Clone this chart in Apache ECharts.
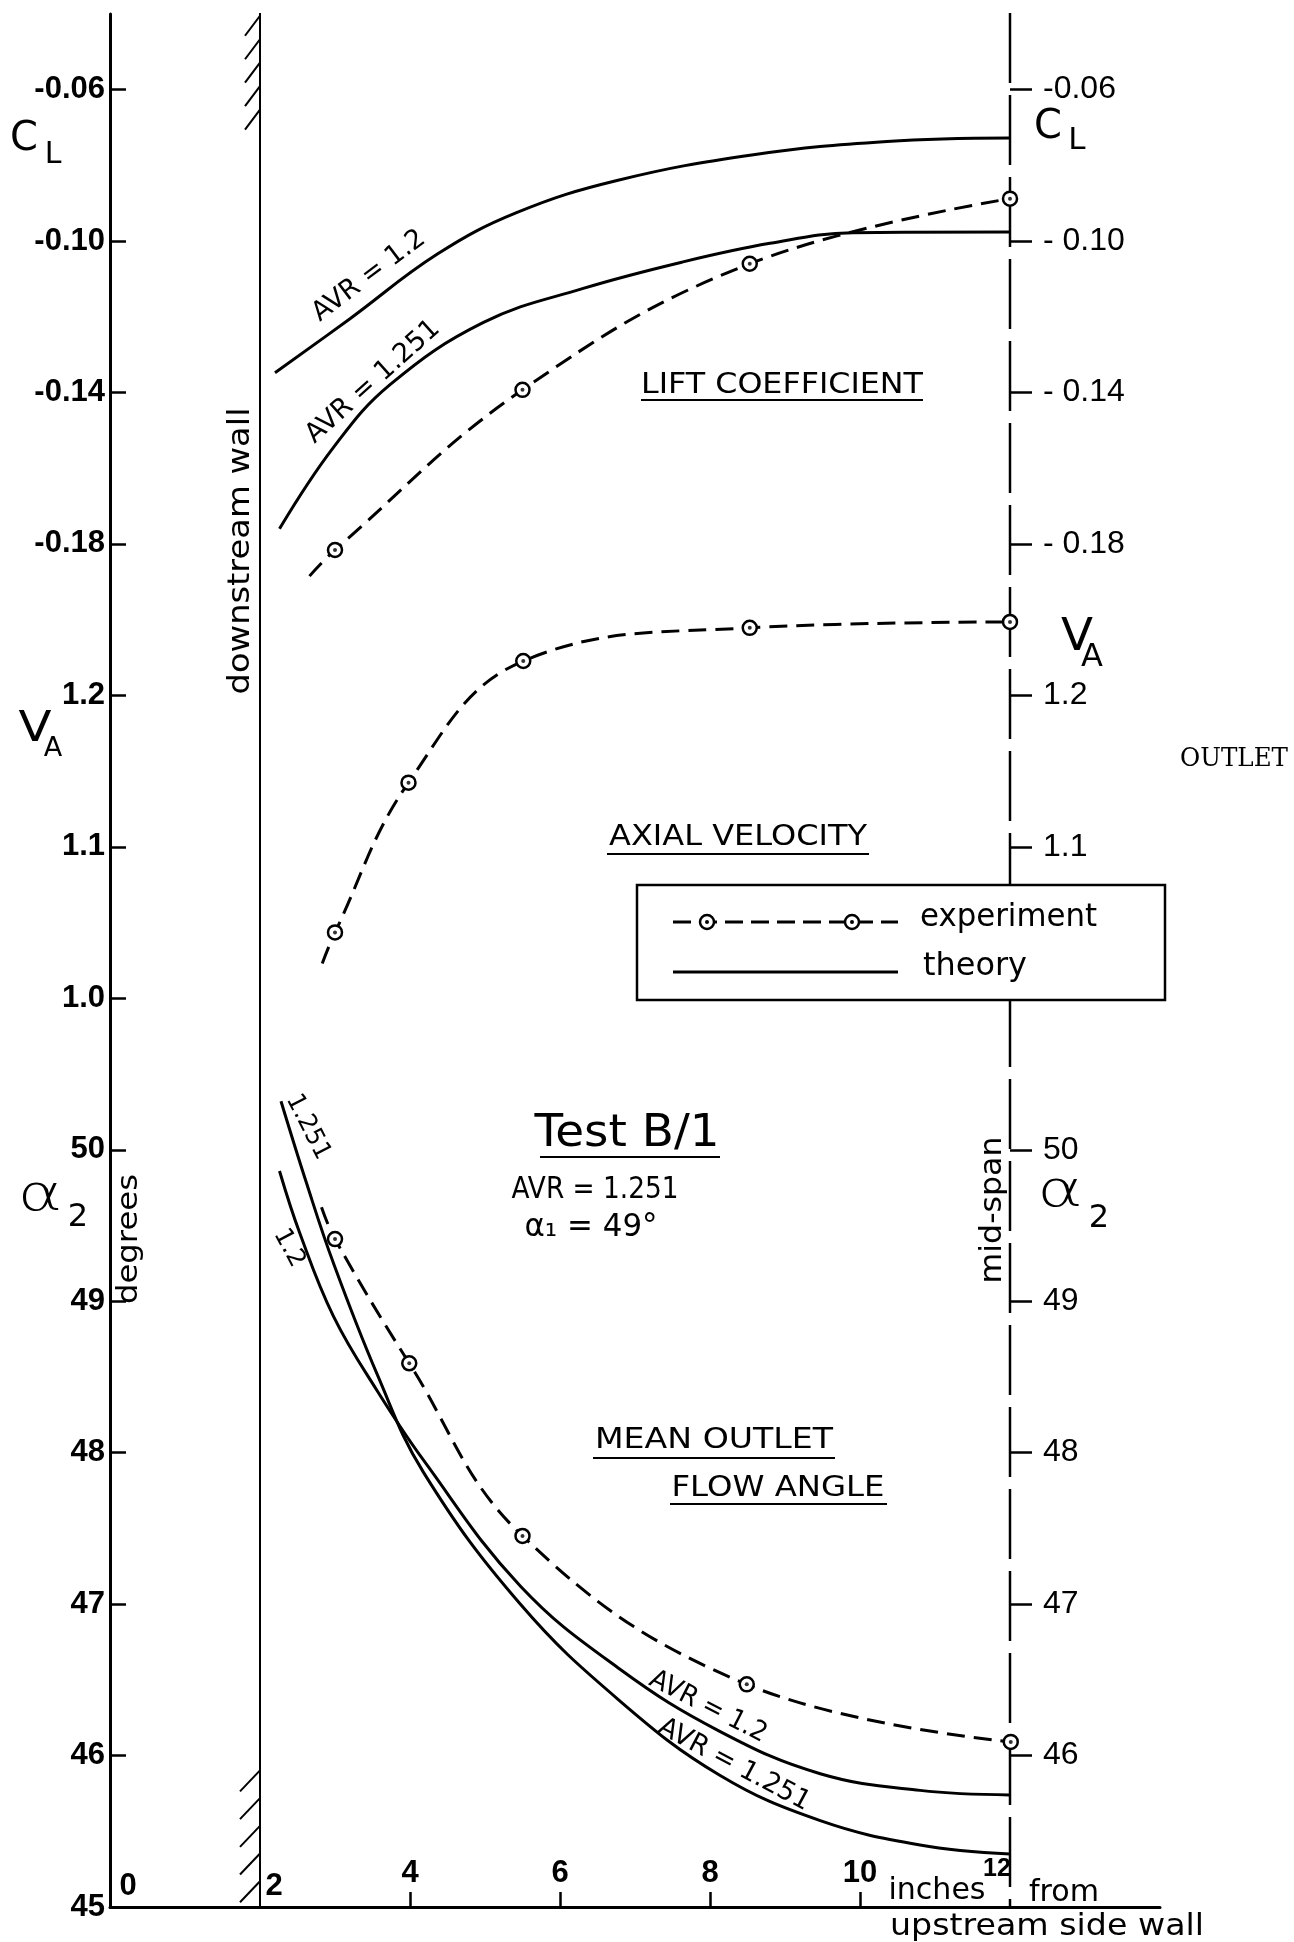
<!DOCTYPE html>
<html>
<head>
<meta charset="utf-8">
<script src="https://cdn.jsdelivr.net/npm/echarts@6/dist/echarts.min.js"></script>
<style>
  html, body { margin: 0; padding: 0; background: #fff; }
  #chart { width: 1294px; height: 1942px; }
</style>
</head>
<body>
<div id="chart"></div>
<script>
// ---- data: spanwise distance from the upstream side wall (inches) ----
const xTickValues = [0, 2, 4, 6, 8, 10, 12];
const xMinorTicks = [4, 6, 8, 10];
const wallX = 2;      // downstream wall
const midSpanX = 12;  // mid-span

// Lift coefficient C_L
const clTheory12X   = [2.2, 3.2, 4.36, 5.42, 6.76, 8.58, 10.36, 12.0];
const clTheory12    = [-0.1348, -0.1205, -0.1035, -0.0925, -0.0840, -0.0772, -0.0737, -0.0728];
const clTheory1251X = [2.26, 2.98, 3.73, 4.98, 6.31, 7.64, 8.8, 9.9, 12.0];
const clTheory1251  = [-0.176, -0.1545, -0.138, -0.1215, -0.1125, -0.1055, -0.1006, -0.0978, -0.0976];
const clExpX        = [2.66, 3.0, 5.5, 8.53, 12.0];
const clExp         = [-0.1885, -0.1816, -0.1393, -0.1060, -0.0888];
const clExpMeasured = [false, true, true, true, true];

// Axial velocity ratio V_A
const vaExpX        = [2.83, 3.0, 3.98, 5.51, 8.53, 12.0];
const vaExp         = [1.023, 1.0435, 1.1424, 1.2227, 1.2446, 1.2485];
const vaExpMeasured = [false, true, true, true, true, true];

// Mean outlet flow angle alpha_2 (degrees)
const a2Theory12X   = [2.26, 2.53, 2.98, 3.56, 4.18, 5.47, 6.8, 8.13, 9.47, 10.8, 12.0];
const a2Theory12    = [49.86, 49.45, 48.90, 48.41, 47.95, 47.12, 46.57, 46.16, 45.88, 45.77, 45.74];
const a2Theory1251X = [2.28, 2.62, 2.98, 3.56, 4.18, 5.47, 6.8, 8.13, 9.47, 10.8, 12.0];
const a2Theory1251  = [50.32, 49.78, 49.25, 48.52, 47.87, 47.00, 46.36, 45.87, 45.57, 45.41, 45.35];
const a2ExpX        = [2.82, 3.0, 3.99, 5.5, 8.49, 12.01];
const a2Exp         = [49.62, 49.41, 48.59, 47.45, 46.47, 46.09];
const a2ExpMeasured = [false, true, true, true, true, true];

// axis tick values
const clTicksLeft  = [-0.18, -0.14, -0.10, -0.06];
const clTicksRight = [-0.18, -0.14, -0.10, -0.06];
const vaTicksLeft  = [1.0, 1.1, 1.2];
const vaTicksRight = [1.1, 1.2];
const a2TicksLeft  = [45, 46, 47, 48, 49, 50];
const a2TicksRight = [46, 47, 48, 49, 50];

// ---- layout ----
const INK = '#000';
const PLOT_LEFT = 110;         // left axis
const MID_PX = 1010;           // x = 12 in
const AXIS_END_PX = 1160;      // x = 14 in
const BASE_Y = 1907;           // bottom axis
const DIV = 151.45;            // pixels per major division, shared by the three stacked scales
const rowY = d => BASE_Y - d * DIV;
const W = 1294, H = 1942;
const SMOOTH = 0.4;

function grid(dLo, dHi, rightPx) {
  return { left: PLOT_LEFT, right: W - rightPx, top: rowY(dHi), height: rowY(dLo) - rowY(dHi),
           containLabel: false, outerBoundsMode: 'none', show: false };
}

const tickLine = { color: INK, width: 2.5 };
function leftAxis(g, min, max, ticks, fmt) {
  return {
    type: 'value', gridIndex: g, position: 'left', min, max,
    axisLine: { show: true, onZero: false, lineStyle: { color: INK, width: 3 } },
    axisTick: { show: true, inside: true, length: 16, customValues: ticks, lineStyle: tickLine },
    axisLabel: { show: true, customValues: ticks, formatter: fmt, margin: 5, color: INK,
                 fontFamily: 'Liberation Sans', fontWeight: 'bold', fontSize: 31 },
    splitLine: { show: false }
  };
}
function rightAxis(g, min, max, ticks, fmt) {
  return {
    type: 'value', gridIndex: g, position: 'right', min, max,
    // the mid-span dashed line is drawn once by its own series; this axis line stays invisible
    axisLine: { show: true, onZero: false, lineStyle: { color: 'rgba(0,0,0,0)', width: 1 } },
    axisTick: { show: true, inside: false, length: 22, customValues: ticks, lineStyle: tickLine },
    axisLabel: { show: true, customValues: ticks, formatter: fmt, margin: 33, color: INK,
                 fontFamily: 'Liberation Sans', fontSize: 32 },
    splitLine: { show: false }
  };
}
const hiddenX = g => ({ type: 'value', gridIndex: g, min: 0, max: 12, show: false, splitLine: { show: false } });

const fmtClLeft = v => '-' + Math.abs(v).toFixed(2);
const fmtClRight = v => (Math.abs(v + 0.06) < 1e-9 ? '-0.06' : '- ' + Math.abs(v).toFixed(2));
const fmtOne = v => v.toFixed(1);
const fmtInt = v => String(Math.round(v));

function xLabel(v) {
  if (v === 0) return '{a|0}';
  if (v === 2) return '{b|2}';
  if (v === 12) return '{d|12}';
  return '{c|' + v + '}';
}

const pairs = (xs, ys) => xs.map((x, i) => [x, ys[i]]);
function theory(name, gi, yi, xs, ys) {
  return { type: 'line', name, xAxisIndex: gi, yAxisIndex: yi, data: pairs(xs, ys),
           smooth: SMOOTH, symbol: 'none', clip: false, silent: true,
           lineStyle: { color: INK, width: 3 }, z: 3 };
}
function experiment(name, gi, yi, xs, ys, measured) {
  return { type: 'line', name, xAxisIndex: gi, yAxisIndex: yi,
           data: xs.map((x, i) => measured[i] ? [x, ys[i]] : { value: [x, ys[i]], symbol: 'none' }),
           smooth: SMOOTH, showAllSymbol: true, symbol: 'circle', symbolSize: 14,
           clip: false, silent: true,
           itemStyle: { color: '#fff', borderColor: INK, borderWidth: 2.5 },
           lineStyle: { color: INK, width: 3, type: [18, 9] }, z: 4 };
}
function centreDots(name, gi, yi, xs, ys, measured) {
  return { type: 'scatter', name, xAxisIndex: gi, yAxisIndex: yi,
           data: pairs(xs, ys).filter((_, i) => measured[i]),
           symbol: 'circle', symbolSize: 4, itemStyle: { color: INK }, z: 5, silent: true, clip: false };
}
// short hatch strokes along the wall
function hatches(gi, yi, ys, dx, dy) {
  return { type: 'custom', xAxisIndex: gi, yAxisIndex: yi, silent: true, clip: false, z: 3,
           data: ys.map(y => [wallX, y]),
           renderItem: (params, api) => {
             const p = api.coord([api.value(0), api.value(1)]);
             return { type: 'line', shape: { x1: p[0], y1: p[1], x2: p[0] - dx, y2: p[1] + dy },
                      style: { stroke: INK, lineWidth: 2 } };
           } };
}
const topHatchY = [0, 1, 2, 3, 4].map(k => -0.0405 - 0.0062 * k);
const bottomHatchY = [0, 1, 2, 3, 4].map(k => 45.17 + 0.183 * k);

// ---- annotation text ----
const mctx = document.createElement('canvas').getContext('2d');
function txt(text, cx, cy, size, o = {}) {
  const family = o.family || 'DejaVu Sans';
  const weight = o.weight || 'normal';
  let sx = 1;
  if (o.width) {
    mctx.font = weight + ' ' + size + 'px "' + family + '"';
    sx = o.width / mctx.measureText(text).width;
  }
  return { type: 'text', x: cx, y: cy, rotation: (o.rot || 0) * Math.PI / 180, scaleX: sx, z: 100, silent: true,
           style: { text, fontSize: size, fontFamily: family, fontWeight: weight, fill: INK,
                    align: o.align || 'center', verticalAlign: 'middle' } };
}
const line = (x1, y1, x2, y2, w, dash) => ({ type: 'line', z: 100, silent: true,
  shape: { x1, y1, x2, y2 }, style: { stroke: INK, lineWidth: w || 2, lineDash: dash || null } });
const ring = (cx, cy) => ({ type: 'circle', z: 101, silent: true, shape: { cx, cy, r: 7 },
  style: { fill: '#fff', stroke: INK, lineWidth: 2.5 } });
const dot = (cx, cy) => ({ type: 'circle', z: 102, silent: true, shape: { cx, cy, r: 2 }, style: { fill: INK } });

const notes = [
  // axis symbols
  txt('C', 24, 140, 40), txt('L', 53, 155, 30),
  txt('C', 1048, 128, 40), txt('L', 1077, 141, 31),
  txt('V', 35, 730, 42, { width: 33 }), txt('A', 53, 749, 27),
  txt('V', 1077, 639, 44, { width: 32 }), txt('A', 1092, 658, 32),
  txt('α', 40, 1197, 50, { width: 45, weight: 'lighter' }), txt('2', 78, 1218, 32),
  txt('α', 1060, 1193, 50, { width: 46, weight: 'lighter' }), txt('2', 1099, 1219, 32),
  txt('degrees', 129, 1239, 29, { rot: 90, width: 130 }),
  txt('downstream wall', 241, 551, 30, { rot: 90, width: 287 }),
  txt('mid-span', 993, 1210, 30, { rot: 90, width: 147 }),
  txt('OUTLET', 1234, 759, 26, { family: 'DejaVu Serif', width: 108 }),
  // panel titles
  txt('LIFT COEFFICIENT', 782, 385, 29, { width: 282 }), line(641, 400, 923, 400, 2),
  txt('AXIAL VELOCITY', 738, 837, 29, { width: 258 }), line(607, 854, 869, 854, 2),
  txt('MEAN OUTLET', 714, 1440, 29, { width: 238 }), line(593, 1458, 835, 1458, 2),
  txt('FLOW ANGLE', 778, 1488, 29, { width: 213 }), line(670, 1504, 887, 1504, 2),
  txt('Test B/1', 627, 1135, 44, { width: 185 }), line(540, 1157, 720, 1157, 2),
  txt('AVR = 1.251', 595, 1190, 31, { width: 167 }),
  txt('α₁ = 49°', 591, 1228, 32, { width: 133 }),
  // curve labels
  txt('AVR = 1.2', 369, 276, 27, { rot: 37, width: 134 }),
  txt('AVR = 1.251', 373, 382, 27, { rot: 42, width: 170 }),
  txt('1.251', 308, 1127, 25, { rot: -63, width: 70 }),
  txt('1.2', 289, 1248, 25, { rot: -62, width: 40 }),
  txt('AVR = 1.2', 708, 1707, 27, { rot: -27, width: 128 }),
  txt('AVR = 1.251', 734, 1765, 27, { rot: -28, width: 168 }),
  // bottom axis caption
  txt('inches', 937, 1891, 30, { width: 97 }),
  txt('from', 1064, 1893, 30, { width: 70 }),
  txt('upstream side wall', 1047, 1927, 31, { width: 314 }),
  // key
  { type: 'rect', z: 99, silent: true, shape: { x: 637, y: 885, width: 528, height: 115 },
    style: { fill: '#fff', stroke: INK, lineWidth: 2.5 } },
  line(673, 922, 898, 922, 3, [18, 8]), ring(707, 922), dot(707, 922), ring(852, 922), dot(852, 922),
  txt('experiment', 920, 918, 32, { align: 'left', width: 177 }),
  line(673, 972, 898, 972, 3),
  txt('theory', 923, 967, 32, { align: 'left', width: 104 })
];

const option = {
  animation: false,
  backgroundColor: '#fff',
  grid: [
    grid(8, 12.5, MID_PX),   // C_L
    grid(5, 9, MID_PX),      // V_A
    grid(0, 6, MID_PX),      // alpha_2
    { left: PLOT_LEFT, right: W - AXIS_END_PX, top: rowY(12.5) - 1, bottom: H - BASE_Y,
      containLabel: false, outerBoundsMode: 'none', show: false }   // frame + distance axis
  ],
  xAxis: [
    hiddenX(0), hiddenX(1), hiddenX(2),
    { type: 'value', gridIndex: 3, position: 'bottom', min: 0, max: 14,
      axisLine: { show: true, onZero: false, lineStyle: { color: INK, width: 3 } },
      axisTick: { show: true, inside: true, length: 15, customValues: xMinorTicks, lineStyle: tickLine },
      axisLabel: { show: true, inside: true, margin: 5, customValues: xTickValues, formatter: xLabel,
                   color: INK, fontFamily: 'Liberation Sans', fontWeight: 'bold', fontSize: 31,
                   rich: {
                     a: { padding: [0, 0, 0, 36], fontFamily: 'Liberation Sans', fontWeight: 'bold', fontSize: 31, color: INK },
                     b: { padding: [0, 0, 0, 28], fontFamily: 'Liberation Sans', fontWeight: 'bold', fontSize: 31, color: INK },
                     c: { padding: [0, 0, 13, 0], fontFamily: 'Liberation Sans', fontWeight: 'bold', fontSize: 31, color: INK },
                     d: { padding: [0, 26, 20, 0], fontFamily: 'Liberation Sans', fontSize: 25, color: INK }
                   } },
      splitLine: { show: false } }
  ],
  yAxis: [
    leftAxis(0, -0.22, -0.04, clTicksLeft, fmtClLeft),
    rightAxis(0, -0.22, -0.04, clTicksRight, fmtClRight),
    leftAxis(1, 0.9, 1.3, vaTicksLeft, fmtOne),
    rightAxis(1, 0.9, 1.3, vaTicksRight, fmtOne),
    leftAxis(2, 45, 51, a2TicksLeft, fmtInt),
    rightAxis(2, 45, 51, a2TicksRight, fmtInt),
    { type: 'value', gridIndex: 3, min: 0, max: 1, show: false, splitLine: { show: false } }
  ],
  series: [
    // wall and mid-span verticals
    { type: 'line', xAxisIndex: 3, yAxisIndex: 6, data: [[wallX, 0], [wallX, 1]], symbol: 'none', silent: true,
      lineStyle: { color: INK, width: 2 }, z: 2 },
    { type: 'line', xAxisIndex: 3, yAxisIndex: 6, data: [[midSpanX, 1], [midSpanX, 0]], symbol: 'none', silent: true,
      lineStyle: { color: INK, width: 2.5, type: [70, 12] }, z: 2 },
    hatches(0, 0, topHatchY, 15, 20),
    hatches(2, 4, bottomHatchY, 20, 21),

    theory('C_L theory AVR 1.2', 0, 0, clTheory12X, clTheory12),
    theory('C_L theory AVR 1.251', 0, 0, clTheory1251X, clTheory1251),
    experiment('C_L experiment', 0, 0, clExpX, clExp, clExpMeasured),
    centreDots('C_L experiment', 0, 0, clExpX, clExp, clExpMeasured),

    experiment('V_A experiment', 1, 2, vaExpX, vaExp, vaExpMeasured),
    centreDots('V_A experiment', 1, 2, vaExpX, vaExp, vaExpMeasured),

    theory('alpha2 theory AVR 1.2', 2, 4, a2Theory12X, a2Theory12),
    theory('alpha2 theory AVR 1.251', 2, 4, a2Theory1251X, a2Theory1251),
    experiment('alpha2 experiment', 2, 4, a2ExpX, a2Exp, a2ExpMeasured),
    centreDots('alpha2 experiment', 2, 4, a2ExpX, a2Exp, a2ExpMeasured)
  ],
  graphic: { elements: notes }
};

const chart = echarts.init(document.getElementById('chart'), null, { renderer: 'canvas', width: W, height: H });
chart.setOption(option);
</script>
</body>
</html>
